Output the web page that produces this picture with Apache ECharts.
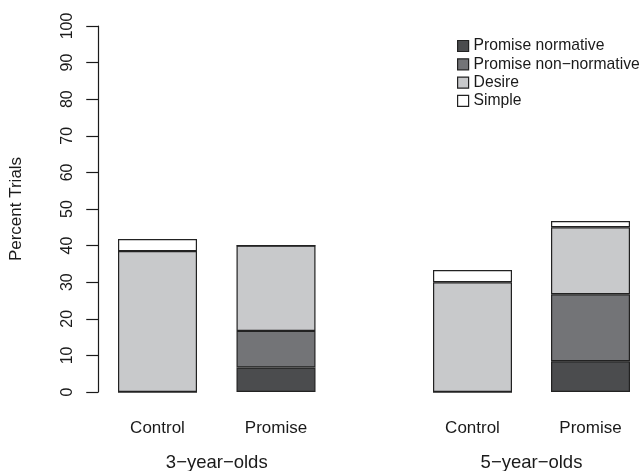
<!DOCTYPE html>
<html>
<head>
<meta charset="utf-8">
<script src="https://cdn.jsdelivr.net/npm/echarts@6/dist/echarts.min.js"></script>
<style>
  html, body { margin: 0; padding: 0; background: #fff; }
  #chart { width: 642px; height: 471px; }
</style>
</head>
<body>
<div id="chart"></div>
<script>
// Age groups and the two conditions within each group
const ageGroups = ['3\u2212year\u2212olds', '5\u2212year\u2212olds'];
const conditions = ['Control', 'Promise'];

// Percent of trials per response type: [Control, Promise] for each age group
const promiseNormative3 = [0, 6.7];
const promiseNonNormative3 = [0, 10.0];
const desire3 = [38.5, 23.3];
const simple3 = [3.3, 0];

const promiseNormative5 = [0, 8.4];
const promiseNonNormative5 = [0, 18.3];
const desire5 = [30.0, 18.3];
const simple5 = [3.3, 1.7];

const responseTypes = ['Promise normative', 'Promise non\u2212normative', 'Desire', 'Simple'];
const fills = ['#4b4c4e', '#737477', '#c8c9cb', '#ffffff'];

const yTicks = { min: 0, max: 100, interval: 10 };

const seriesByGroup = [
  [promiseNormative3, promiseNonNormative3, desire3, simple3],
  [promiseNormative5, promiseNonNormative5, desire5, simple5]
];

const FONT = 'Liberation Sans, Arial, Helvetica, sans-serif';
const INK = '#1a1a1a';

const chart = echarts.init(document.getElementById('chart'), null, { renderer: 'canvas' });

// each grid spans from the centre of its first bar to the centre of its second
const grids = [
  { left: 157.5, top: 26, width: 118.5, bottom: 79, outerBoundsMode: 'none', containLabel: false },
  { left: 472.5, top: 26, width: 118, bottom: 79, outerBoundsMode: 'none', containLabel: false }
];

const xAxes = [];
const yAxes = [];
const series = [];

ageGroups.forEach((group, g) => {
  xAxes.push({
    type: 'category', gridIndex: g, data: conditions, boundaryGap: false,
    axisLine: { show: false }, axisTick: { show: false }, splitLine: { show: false },
    axisLabel: { margin: 28, fontSize: 17, color: INK, fontFamily: FONT },
    name: group, nameLocation: 'middle', nameGap: 61,
    nameTextStyle: { fontSize: 18.5, color: INK, fontFamily: FONT }
  });
  yAxes.push(g === 0 ? {
    type: 'value', gridIndex: 0, min: yTicks.min, max: yTicks.max, interval: yTicks.interval,
    offset: 59.25,
    axisLine: { show: true, lineStyle: { color: INK, width: 1.2 } },
    axisTick: { show: true, length: 12, lineStyle: { color: INK, width: 1.2 } },
    splitLine: { show: false },
    axisLabel: { rotate: 90, margin: 23, fontSize: 16, color: INK, fontFamily: FONT },
    name: 'Percent Trials', nameLocation: 'middle', nameGap: 73, nameRotate: 90,
    nameTextStyle: { fontSize: 17, color: INK, fontFamily: FONT }
  } : {
    type: 'value', gridIndex: 1, min: yTicks.min, max: yTicks.max, interval: yTicks.interval,
    show: false
  });

  seriesByGroup[g].forEach((values, k) => {
    series.push({
      name: responseTypes[k],
      type: 'bar',
      stack: 'group' + g,
      xAxisIndex: g,
      yAxisIndex: g,
      barWidth: 79,
      clip: false,
      data: values,
      itemStyle: { color: fills[k], borderColor: '#222', borderWidth: 1.2 },
      emphasis: { disabled: true },
      animation: false
    });
  });
});

chart.setOption({
  backgroundColor: '#ffffff',
  animation: false,
  grid: grids,
  xAxis: xAxes,
  yAxis: yAxes,
  legend: {
    data: responseTypes,
    orient: 'vertical',
    left: 452, top: 33,
    itemWidth: 11, itemHeight: 11, itemGap: 2.3,
    icon: 'rect',
    itemStyle: { borderColor: '#222', borderWidth: 1.2 },
    textStyle: { fontSize: 15.7, lineHeight: 16, color: INK, fontFamily: FONT },
    selectedMode: false
  },
  series: series
});
</script>
</body>
</html>
